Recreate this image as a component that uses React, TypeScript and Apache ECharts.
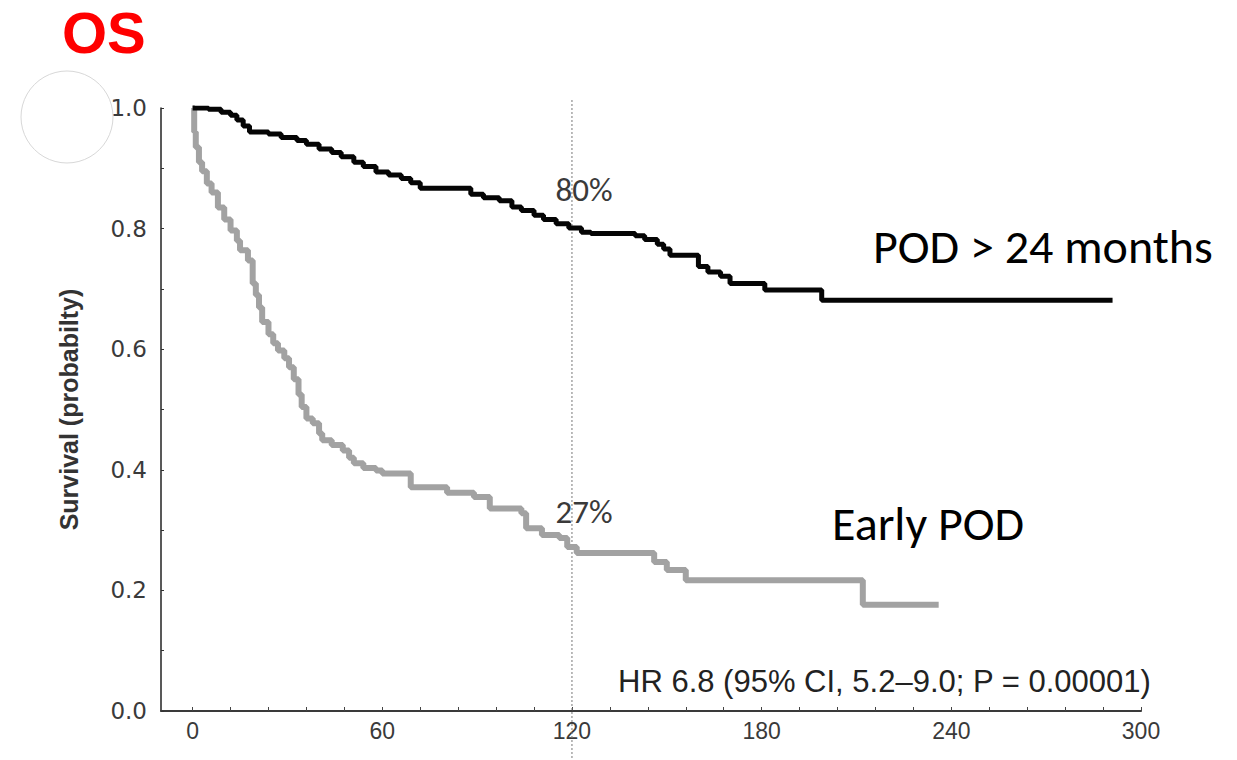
import React, { useEffect, useRef } from "react";
import * as echarts from "echarts";

// Kaplan–Meier overall survival, months since diagnosis
const lateMonths = [
  0, 5, 9, 12, 14, 16, 18, 24, 28, 33, 36, 40, 44, 47, 51, 54, 58, 62, 66, 69,
  72, 88, 92, 97, 101, 104, 108, 111, 115, 119, 123, 126, 140, 143, 147, 149,
  151, 160, 163, 167, 170, 181, 199, 291,
];
const lateSurvival = [
  1.0, 0.998, 0.993, 0.988, 0.98, 0.97, 0.96, 0.957, 0.951, 0.946, 0.94, 0.932,
  0.926, 0.919, 0.91, 0.903, 0.894, 0.889, 0.883, 0.876, 0.867, 0.857, 0.851,
  0.846, 0.836, 0.83, 0.822, 0.815, 0.808, 0.801, 0.794, 0.792, 0.788, 0.782,
  0.774, 0.766, 0.756, 0.737, 0.728, 0.721, 0.709, 0.698, 0.681, 0.681,
];

const earlyMonths = [
  0, 0.5, 1, 2, 3, 4.5, 6, 8, 10, 12, 14, 15, 17.5, 19, 20, 21, 22, 24, 25.5,
  27, 29, 30.5, 32, 33.5, 34.5, 36, 38, 40, 41, 44, 47.5, 49.5, 51, 54, 58, 60,
  69, 80.5, 89, 94, 104, 105.5, 110.5, 116, 118.5, 121.5, 146, 150, 156, 212,
  236,
];
const earlySurvival = [
  1.0, 0.96, 0.935, 0.91, 0.895, 0.875, 0.86, 0.835, 0.815, 0.797, 0.78, 0.764,
  0.747, 0.709, 0.69, 0.669, 0.645, 0.625, 0.61, 0.598, 0.585, 0.57, 0.55,
  0.525, 0.504, 0.485, 0.477, 0.46, 0.449, 0.441, 0.432, 0.42, 0.411, 0.403,
  0.399, 0.394, 0.371, 0.362, 0.355, 0.336, 0.328, 0.303, 0.292, 0.287, 0.272,
  0.262, 0.247, 0.234, 0.217, 0.176, 0.176,
];

const xLabelValues = [0, 60, 120, 180, 240, 300];
const xTickValues = [
  0, 12, 24, 36, 48, 60, 72, 84, 96, 108, 120, 132, 144, 156, 168, 180, 192,
  204, 216, 228, 240, 252, 264, 276, 288, 300,
];
const yLabelValues = [0, 0.2, 0.4, 0.6, 0.8, 1.0];
const yTickValues = [0, 0.1, 0.2, 0.3, 0.4, 0.5, 0.6, 0.7, 0.8, 0.9, 1.0];

const landmarkMonth = 120;
const landmarkLate = 0.8;
const landmarkEarly = 0.27;

const titleText = "OS";
const lateName = "POD > 24 months";
const earlyName = "Early POD";
const hazardText = "HR 6.8 (95% CI, 5.2\u20139.0; P = 0.00001)";
const yAxisTitle = "Survival (probabilty)";

const calibriLike = "Carlito, Calibri, Lato, 'Open Sans', sans-serif";
const arialLike = "'Liberation Sans', Arial, sans-serif";

const pairs = (xs: number[], ys: number[]) => xs.map((x, i) => [x, ys[i]]);

export default function App() {
  const ref = useRef<HTMLDivElement>(null);

  useEffect(() => {
    if (!ref.current) return;
    const chart = echarts.init(ref.current, null, { renderer: "svg" });

    const landmarkLabel = (value: number, dy: number) => ({
      coord: [landmarkMonth, value],
      value,
      symbol: "circle",
      symbolSize: 0,
      label: {
        show: true,
        position: "inside",
        formatter: `${Math.round(value * 100)}%`,
        offset: [12, dy],
        fontFamily: calibriLike,
        fontSize: 33,
        color: "#3a3a3a",
      },
    });

    chart.setOption({
      animation: false,
      backgroundColor: "#ffffff",
      grid: { left: 161, top: 108, width: 980, height: 603, containLabel: false },
      xAxis: {
        type: "value",
        min: -10,
        max: 300,
        axisLine: { show: true, onZero: false, lineStyle: { color: "#3a3a3a", width: 2 } },
        axisTick: {
          show: true,
          inside: true,
          length: 4,
          customValues: xTickValues,
          lineStyle: { color: "#444", width: 1 },
        },
        axisLabel: {
          customValues: xLabelValues,
          margin: 8,
          fontFamily: arialLike,
          fontSize: 23,
          color: "#3a3a3a",
        },
        splitLine: { show: false },
      },
      yAxis: {
        type: "value",
        min: 0,
        max: 1,
        name: yAxisTitle,
        nameLocation: "middle",
        nameRotate: 90,
        nameGap: 80,
        nameTextStyle: {
          fontFamily: arialLike,
          fontWeight: "bold",
          fontSize: 25,
          color: "#333",
        },
        axisLine: { show: true, onZero: false, lineStyle: { color: "#222", width: 1.5 } },
        axisTick: {
          show: true,
          inside: true,
          length: 3,
          customValues: yTickValues,
          lineStyle: { color: "#333", width: 1 },
        },
        axisLabel: {
          customValues: yLabelValues,
          margin: 14,
          formatter: (v: number) => v.toFixed(1),
          fontFamily: "'DejaVu Sans', sans-serif",
          fontSize: 23,
          color: "#3a3a3a",
        },
        splitLine: { show: false },
      },
      series: [
        {
          name: earlyName,
          type: "line",
          step: "end",
          showSymbol: false,
          data: pairs(earlyMonths, earlySurvival),
          lineStyle: { color: "#a2a2a2", width: 6 },
          z: 3,
          markPoint: {
            silent: true,
            data: [landmarkLabel(landmarkEarly, -36)],
          },
        },
        {
          name: lateName,
          type: "line",
          step: "end",
          showSymbol: false,
          data: pairs(lateMonths, lateSurvival),
          lineStyle: { color: "#050505", width: 5 },
          z: 4,
          markPoint: {
            silent: true,
            data: [landmarkLabel(landmarkLate, -39)],
          },
        },
      ],
    });

    // landmark guide and annotations placed from the axis scales
    const [lx] = chart.convertToPixel({ xAxisIndex: 0, yAxisIndex: 0 }, [landmarkMonth, 0]);
    chart.setOption({
      graphic: [
        {
          type: "circle",
          shape: { cx: 67, cy: 117, r: 46 },
          style: { fill: "#ffffff", stroke: "#d8d8d8", lineWidth: 1 },
          z: 1,
        },
        {
          type: "text",
          left: 62,
          top: 3,
          style: {
            text: titleText,
            fill: "#ff0000",
            font: `bold 58px ${arialLike}`,
          },
        },
        {
          type: "line",
          shape: { x1: lx, y1: 100, x2: lx, y2: 760 },
          style: { stroke: "#777", lineWidth: 1, lineDash: [2, 2] },
          z: 1,
        },
        {
          type: "text",
          left: 873,
          top: 222,
          style: { text: lateName, fill: "#000", font: `48px ${calibriLike}` },
        },
        {
          type: "text",
          left: 832,
          top: 499,
          style: { text: earlyName, fill: "#000", font: `48px ${calibriLike}` },
        },
        {
          type: "text",
          left: 618,
          top: 666,
          style: { text: hazardText, fill: "#222", font: `31px ${arialLike}` },
        },
      ],
    });

    return () => chart.dispose();
  }, []);

  return (
    <div
      ref={ref}
      style={{ position: "fixed", left: 0, top: 0, width: 1237, height: 760, background: "#fff" }}
    />
  );
}
